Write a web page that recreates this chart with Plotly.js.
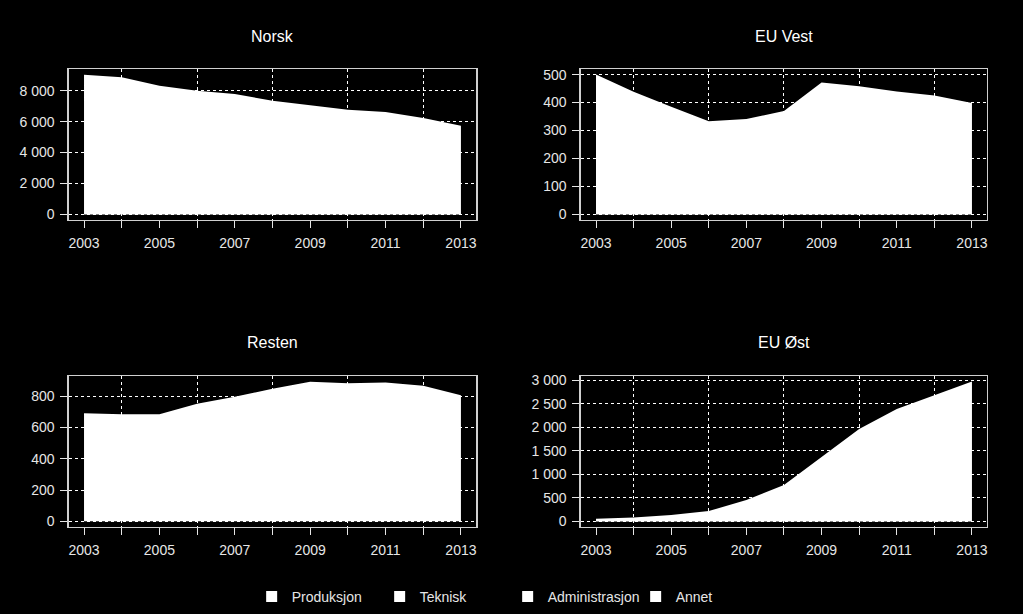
<!DOCTYPE html>
<html>
<head>
<meta charset="utf-8">
<script src="https://cdn.plot.ly/plotly-3.0.1.min.js"></script>
<style>html,body{margin:0;padding:0;background:#000;}#chart{width:1023px;height:614px;}</style>
</head>
<body>
<div id="chart"></div>
<script>
// ---- data (totals per region) ----
const years = [2003, 2004, 2005, 2006, 2007, 2008, 2009, 2010, 2011, 2012, 2013];
const norsk   = [9030, 8860, 8320, 8000, 7780, 7350, 7050, 6770, 6620, 6240, 5740];
const euVest  = [500, 439, 385, 333, 341, 370, 472, 458, 440, 425, 398];
const resten  = [690, 684, 684, 751, 795, 847, 892, 881, 887, 866, 805];
const euOst   = [57, 85, 135, 220, 454, 773, 1369, 1965, 2390, 2674, 2972];
const panelTitles = ["Norsk", "EU Vest", "Resten", "EU Øst"];
const legendNames = ["Produksjon", "Teknisk", "Administrasjon", "Annet"];
const xTickVals = [2003, 2005, 2007, 2009, 2011, 2013];
const xTickText = ["2003", "2005", "2007", "2009", "2011", "2013"];
const xMinorVals = [2004, 2006, 2008, 2010, 2012];
const yTicks = {
  norsk: [0, 2000, 4000, 6000, 8000],
  euVest: [0, 100, 200, 300, 400, 500],
  resten: [0, 200, 400, 600, 800],
  euOst: [0, 500, 1000, 1500, 2000, 2500, 3000]
};

const series = [norsk, euVest, resten, euOst];
const ticksets = [yTicks.norsk, yTicks.euVest, yTicks.resten, yTicks.euOst];
const yRanges = [[-360, 9400], [-20, 520], [-36, 928], [-119, 3091]];
const xDomains = [[0.0674, 0.4653], [0.5679, 0.9648], [0.0674, 0.4653], [0.5679, 0.9648]];
const yDomains = [[0.6417, 0.8876], [0.6417, 0.8876], [0.1417, 0.3876], [0.1417, 0.3876]];

const fg = '#e6e6e6';
const traces = [];
const layout = {
  width: 1023, height: 614,
  paper_bgcolor: '#000', plot_bgcolor: '#000',
  margin: {l: 0, r: 0, t: 0, b: 0},
  separators: ', ',
  font: {family: 'Liberation Sans, Arial, sans-serif', color: fg, size: 14},
  showlegend: true,
  legend: {
    orientation: 'h', x: 0.246, xanchor: 'left', y: 0.028, yanchor: 'middle',
    entrywidth: 83, entrywidthmode: 'pixels', itemwidth: 30,
    font: {size: 14, color: fg}, bgcolor: 'rgba(0,0,0,0)', traceorder: 'normal'
  },
  annotations: []
};

series.forEach((vals, i) => {
  const n = i + 1;
  const xa = 'x' + (n === 1 ? '' : n), ya = 'y' + (n === 1 ? '' : n);
  traces.push({
    type: 'scatter', mode: 'lines', x: years, y: vals, xaxis: xa, yaxis: ya,
    fill: 'tozeroy', fillcolor: '#ffffff', line: {width: 0, color: '#ffffff'},
    showlegend: false, hoverinfo: 'x+y'
  });
  const axX = {
    domain: xDomains[i], anchor: ya, range: [2002.6, 2013.4],
    tickmode: 'array', tickvals: xTickVals, ticktext: xTickText,
    ticks: 'outside', ticklen: 7, tickcolor: fg, tickwidth: 1,
    showgrid: false, zeroline: false,
    showline: true, mirror: true, linecolor: '#d0d0d0', linewidth: 1.5,
    ticklabelstandoff: 3,
    tickfont: {size: 14, color: fg},
    minor: {tickmode: 'array', tickvals: xMinorVals, ticks: 'outside', ticklen: 7,
            tickcolor: fg, tickwidth: 1, showgrid: true, gridcolor: '#ffffff',
            griddash: 'dot', gridwidth: 1}
  };
  const axY = {
    domain: yDomains[i], anchor: xa, range: yRanges[i],
    tickmode: 'array', tickvals: ticksets[i],
    separatethousands: true,
    ticks: 'outside', ticklen: 7, tickcolor: fg, tickwidth: 1,
    showgrid: true, gridcolor: '#ffffff', griddash: 'dot', gridwidth: 1,
    zeroline: false,
    showline: true, mirror: true, linecolor: '#d0d0d0', linewidth: 1.5,
    ticklabelstandoff: 3,
    tickfont: {size: 14, color: fg}
  };
  layout['xaxis' + (n === 1 ? '' : n)] = axX;
  layout['yaxis' + (n === 1 ? '' : n)] = axY;
  layout.annotations.push({
    text: panelTitles[i], showarrow: false,
    xref: 'paper', yref: 'paper',
    x: (xDomains[i][0] + xDomains[i][1]) / 2, xanchor: 'center',
    y: i < 2 ? 1 - 36 / 614 : 1 - 342 / 614, yanchor: 'middle',
    font: {size: 16, color: '#ffffff'}
  });
});

legendNames.forEach(name => {
  traces.push({
    type: 'scatter', mode: 'markers', x: [null], y: [null], name: name,
    marker: {symbol: 'square', size: 11, color: '#ffffff'},
    showlegend: true, hoverinfo: 'skip'
  });
});

Plotly.newPlot('chart', traces, layout, {displayModeBar: false, staticPlot: true});
</script>
</body>
</html>
